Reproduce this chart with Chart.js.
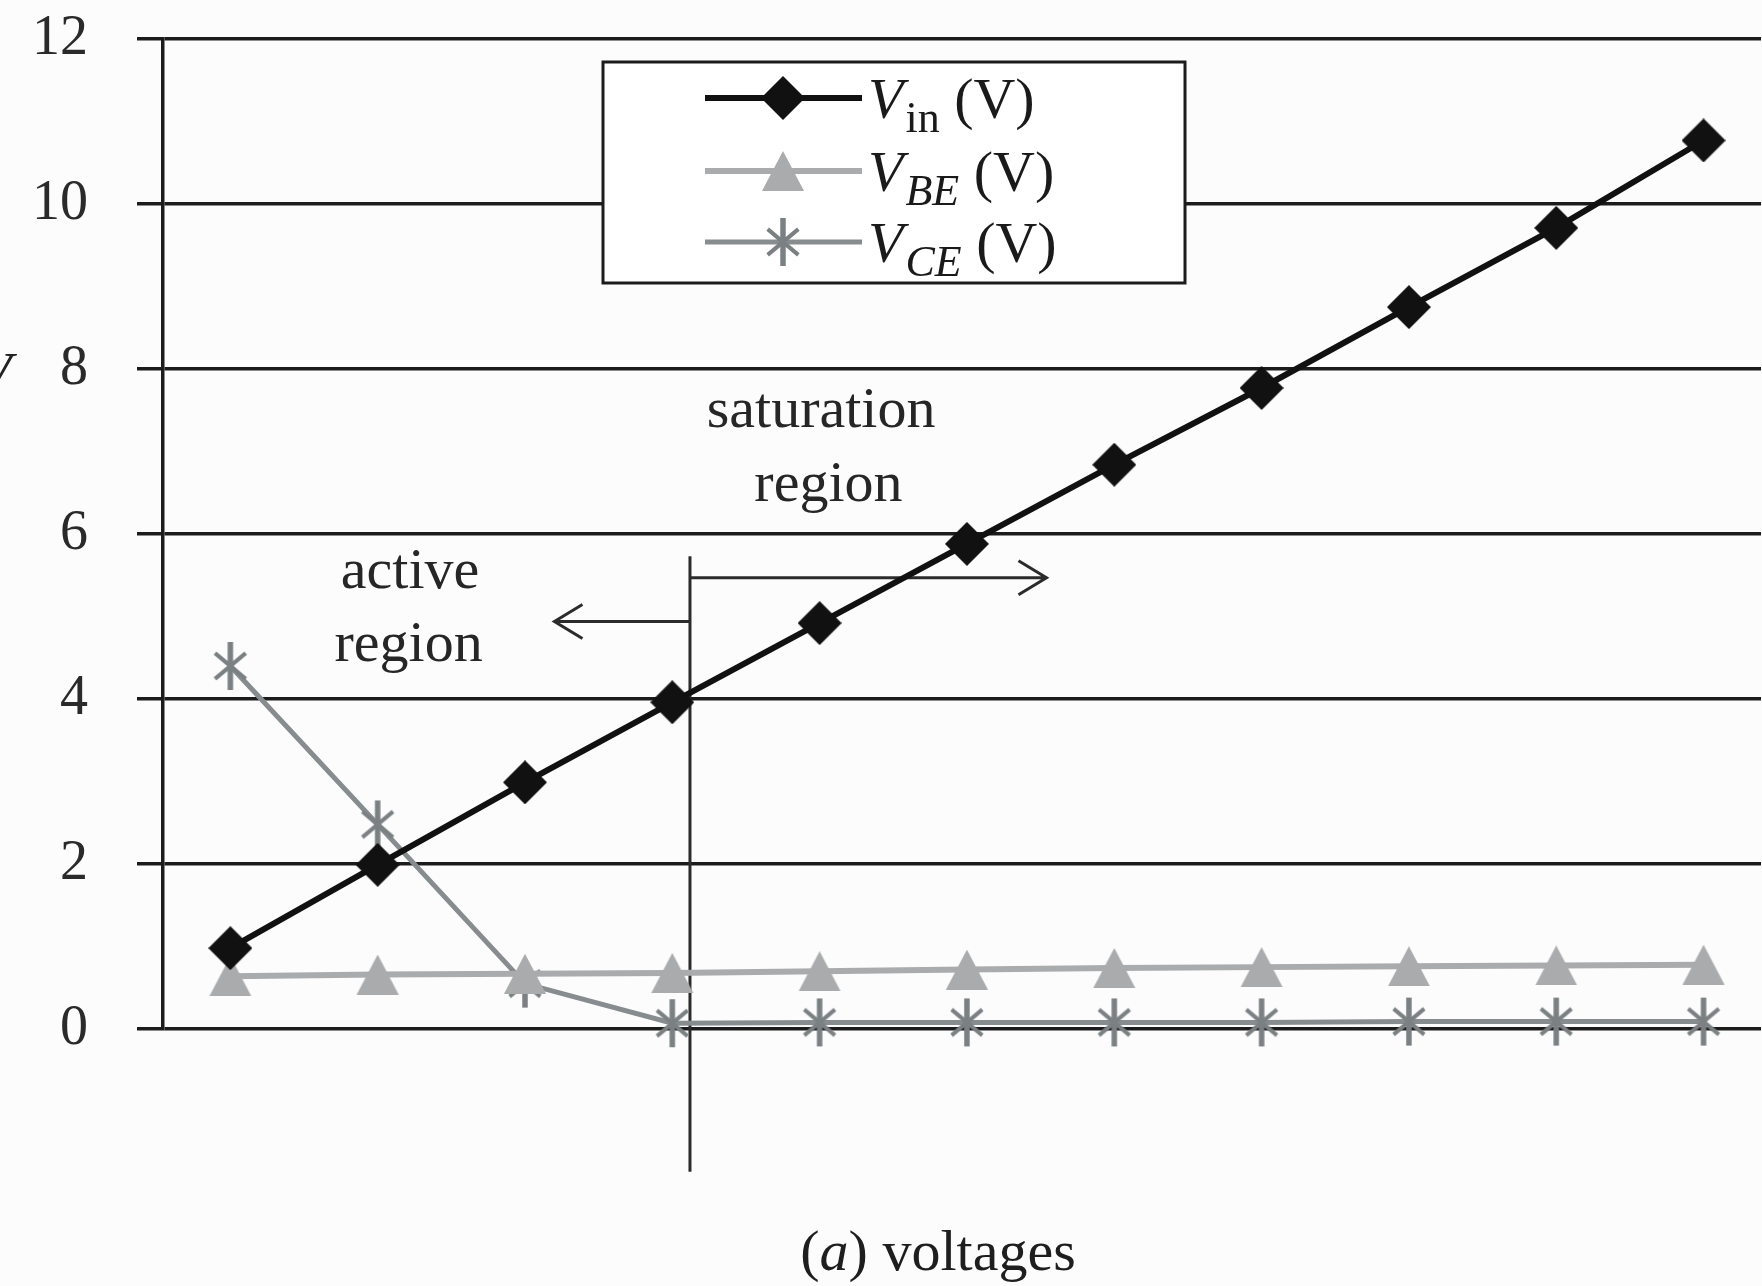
<!DOCTYPE html>
<html lang="en">
<head>
<meta charset="UTF-8">
<title>(a) voltages</title>
<script src="https://cdn.jsdelivr.net/npm/chart.js"></script>
<style>
  html, body { margin: 0; padding: 0; background: #fcfcfc; overflow: hidden; }
  canvas { display: block; }
</style>
</head>
<body>
<canvas id="voltChart" width="1762" height="1286"></canvas>
<script>
// measurement steps (no x labels in the figure)
const steps = [1, 2, 3, 4, 5, 6, 7, 8, 9, 10, 11];
const vIn = [0.98, 1.99, 2.99, 3.96, 4.92, 5.88, 6.84, 7.77, 8.75, 9.71, 10.77];
const vBE = [0.64, 0.66, 0.67, 0.68, 0.70, 0.72, 0.74, 0.75, 0.76, 0.77, 0.78];
const vCE = [4.40, 2.48, 0.55, 0.07, 0.08, 0.08, 0.08, 0.08, 0.09, 0.09, 0.09];
const yTicks = [0, 2, 4, 6, 8, 10, 12];
// legend: main letter, subscript, subscript italic?
const legendNames = [['V', 'in', false], ['V', 'BE', true], ['V', 'CE', true]];

const SERIF = '"Liberation Serif", "Times New Roman", serif';
const INK = '#1c1c1c';

function makeDiamond() {
  const c = document.createElement('canvas');
  c.width = 44; c.height = 44;
  const g = c.getContext('2d');
  g.fillStyle = '#111';
  g.beginPath();
  g.moveTo(22, 0); g.lineTo(44, 22); g.lineTo(22, 44); g.lineTo(0, 22);
  g.closePath(); g.fill();
  return c;
}
function makeTriangle() {
  const c = document.createElement('canvas');
  c.width = 44; c.height = 40;
  const g = c.getContext('2d');
  g.fillStyle = '#a9abad';
  g.beginPath();
  g.moveTo(22, 0); g.lineTo(43, 40); g.lineTo(1, 40);
  g.closePath(); g.fill();
  return c;
}
function makeStar() {
  const c = document.createElement('canvas');
  c.width = 42; c.height = 50;
  const g = c.getContext('2d');
  g.strokeStyle = '#7b8183';
  const cx = 21, cy = 25, r = 20, a = 40 * Math.PI / 180;
  g.lineWidth = 5.5;
  g.beginPath(); g.moveTo(cx, 1); g.lineTo(cx, 49); g.stroke();
  g.lineWidth = 4;
  g.beginPath();
  [1, -1].forEach(s => {
    g.moveTo(cx - r * Math.cos(a), cy - s * r * Math.sin(a));
    g.lineTo(cx + r * Math.cos(a), cy + s * r * Math.sin(a));
  });
  g.stroke();
  return c;
}

const markers = [makeDiamond(), makeTriangle(), makeStar()];

function pts(vals) {
  return steps.map((s, i) => ({ x: s, y: vals[i] }));
}

// annotations in data units
const notes = {
  splitX: 4.12, splitTop: 5.73, splitBottom: -1.73,
  rightArrowY: 5.47, rightArrowTo: 6.54,
  leftArrowY: 4.94, leftArrowTo: 3.2,
  texts: [
    { t: 'saturation', x: 5.01, y: 7.48 },
    { t: 'region', x: 5.06, y: 6.59 },
    { t: 'active', x: 2.22, y: 5.53 },
    { t: 'region', x: 2.21, y: 4.64 }
  ]
};

const annotations = {
  id: 'annotations',
  beforeDatasetsDraw(chart) {
    const { ctx, scales: { x, y } } = chart;
    const sx = x.getPixelForValue(notes.splitX);
    ctx.save();
    ctx.strokeStyle = '#2b2b2b';
    ctx.lineWidth = 3;
    ctx.beginPath();
    ctx.moveTo(sx, y.getPixelForValue(notes.splitTop));
    ctx.lineTo(sx, y.getPixelForValue(notes.splitBottom));
    ctx.stroke();

    const arrow = (yv, toV, dir) => {
      const py = y.getPixelForValue(yv);
      const px = x.getPixelForValue(toV);
      ctx.beginPath();
      ctx.moveTo(sx, py); ctx.lineTo(px, py);
      ctx.moveTo(px - dir * 28, py - 17); ctx.lineTo(px, py); ctx.lineTo(px - dir * 28, py + 17);
      ctx.stroke();
    };
    arrow(notes.rightArrowY, notes.rightArrowTo, 1);
    arrow(notes.leftArrowY, notes.leftArrowTo, -1);

    ctx.fillStyle = '#262626';
    ctx.font = '58px ' + SERIF;
    ctx.textAlign = 'center';
    ctx.textBaseline = 'middle';
    notes.texts.forEach(n => ctx.fillText(n.t, x.getPixelForValue(n.x), y.getPixelForValue(n.y)));
    ctx.restore();
  },
  afterDraw(chart) {
    const ctx = chart.ctx;
    ctx.save();
    // legend box
    const bx = 603, by = 62, bw = 582, bh = 221;
    ctx.fillStyle = '#ffffff';
    ctx.fillRect(bx, by, bw, bh);
    ctx.strokeStyle = INK;
    ctx.lineWidth = 3;
    ctx.strokeRect(bx, by, bw, bh);
    const rows = [98, 171, 242];
    chart.data.datasets.forEach((ds, i) => {
      const ry = rows[i];
      ctx.strokeStyle = ds.borderColor;
      ctx.lineWidth = ds.borderWidth;
      ctx.beginPath(); ctx.moveTo(705, ry); ctx.lineTo(862, ry); ctx.stroke();
      const m = ds.pointStyle;
      ctx.drawImage(m, 783 - m.width / 2, ry - m.height / 2);
      const [main, sub, subItalic] = legendNames[i];
      let tx = 868;
      ctx.fillStyle = '#1a1a1a';
      ctx.textAlign = 'left';
      ctx.textBaseline = 'alphabetic';
      ctx.font = 'italic 58px ' + SERIF;
      ctx.fillText(main, tx, ry + 20);
      tx += ctx.measureText(main).width + 2;
      ctx.font = (subItalic ? 'italic ' : '') + '44px ' + SERIF;
      ctx.fillText(sub, tx, ry + 34);
      tx += ctx.measureText(sub).width;
      ctx.font = '58px ' + SERIF;
      ctx.fillText(' (V)', tx, ry + 20);
    });

    // cut-off axis letter at the far left
    ctx.fillStyle = '#222';
    ctx.font = 'italic 58px ' + SERIF;
    ctx.fillText('V', -24, 392);

    // caption
    const parts = [['(', ''], ['a', 'italic '], [') voltages', '']];
    let total = 0;
    parts.forEach(p => { ctx.font = p[1] + '58px ' + SERIF; total += ctx.measureText(p[0]).width; });
    let cx = 938 - total / 2;
    ctx.fillStyle = '#1e1e1e';
    parts.forEach(p => {
      ctx.font = p[1] + '58px ' + SERIF;
      ctx.fillText(p[0], cx, 1270);
      cx += ctx.measureText(p[0]).width;
    });
    ctx.restore();
  }
};

new Chart(document.getElementById('voltChart'), {
  type: 'line',
  data: {
    datasets: [
      { label: 'Vin (V)', data: pts(vIn), borderColor: '#111111', borderWidth: 6,
        pointStyle: markers[0], pointRadius: 1, pointBorderWidth: 0, pointHoverRadius: 0, clip: false },
      { label: 'VBE (V)', data: pts(vBE), borderColor: '#a9abad', borderWidth: 6,
        pointStyle: markers[1], pointRadius: 1, pointBorderWidth: 0, pointHoverRadius: 0, clip: false },
      { label: 'VCE (V)', data: pts(vCE), borderColor: '#878c8e', borderWidth: 5,
        pointStyle: markers[2], pointRadius: 1, pointBorderWidth: 0, pointHoverRadius: 0, clip: false }
    ]
  },
  options: {
    responsive: false,
    animation: false,
    events: [],
    layout: { padding: { top: 39, right: 0, bottom: 257, left: 0 } },
    plugins: { legend: { display: false }, tooltip: { enabled: false } },
    scales: {
      x: { type: 'linear', display: false, min: 0.543, max: 11.39 },
      y: {
        min: 0, max: 12,
        afterFit(scale) { scale.width = 163; scale.paddingTop = 0; scale.paddingBottom = 0; },
        afterBuildTicks(scale) { scale.ticks = yTicks.map(v => ({ value: v })); },
        grid: { color: INK, lineWidth: 3.5, tickLength: 26, tickColor: INK },
        border: { display: true, color: INK, width: 3.5 },
        ticks: { padding: 49, color: '#2a2a2a', font: { family: SERIF, size: 56 } }
      }
    }
  },
  plugins: [annotations]
});
</script>
</body>
</html>
